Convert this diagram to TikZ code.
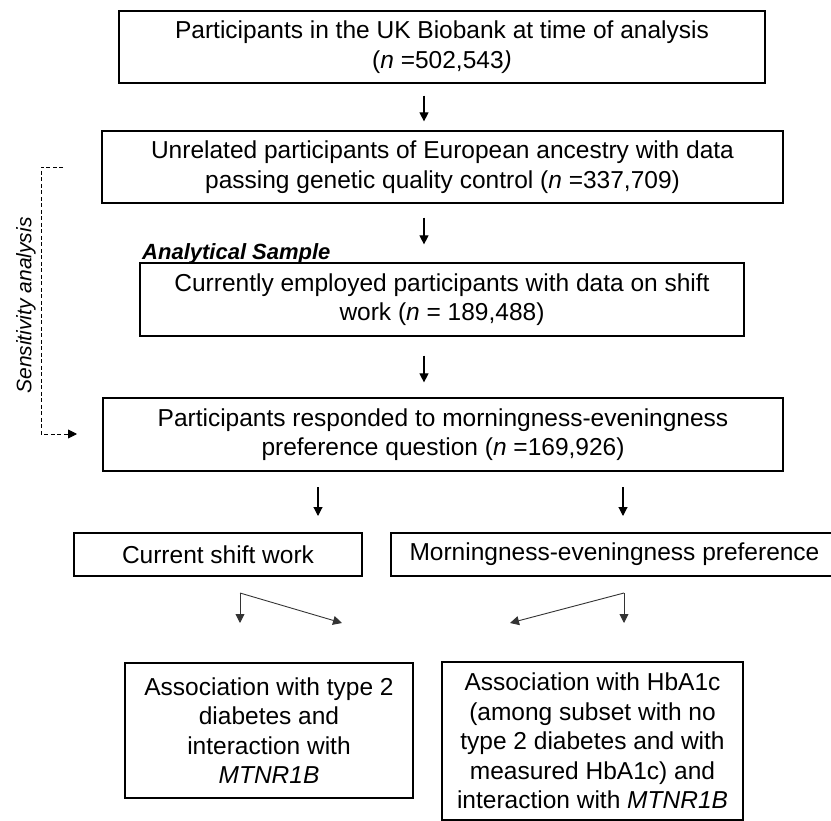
\documentclass[tikz,border=0pt]{standalone}
\usepackage{fontspec}
\setmainfont{Liberation Sans}
\usetikzlibrary{arrows.meta}
\begin{document}
\begin{tikzpicture}[x=1pt,y=-1pt,
  box/.style={draw=black, line width=1.2pt, inner sep=0pt, align=center,
    font=\fontsize{24.5}{29.5}\selectfont},
  arr/.style={line width=1.1pt, -{Triangle[length=9pt,width=9pt]}},
  thinarr/.style={line width=0.9pt, draw=black!80, -{Triangle[length=9pt,width=9pt]}},
  dasharr/.style={line width=0.9pt, dash pattern=on 4pt off 2.5pt, -{Triangle[length=9pt,width=9pt]}},
  lbl/.style={inner sep=0pt}]
\useasboundingbox (0,0) rectangle (831,821);
\clip (0,0) rectangle (831,821);

% boxes
\node[box, minimum width=646pt, minimum height=72pt] (b1) at (442,47)
  {Participants in the UK Biobank at time of analysis\\(\textit{n} =502,543\textit{)}};
\node[box, minimum width=681pt, minimum height=72pt] (b2) at (442.5,167)
  {Unrelated participants of European ancestry with data\\passing genetic quality control (\textit{n} =337,709)};
\node[box, minimum width=604pt, minimum height=73pt] (b3) at (442,299.5)
  {Currently employed participants with data on shift\\work (\textit{n} = 189,488)};
\node[box, minimum width=680pt, minimum height=73pt] (b4) at (443,434.5)
  {Participants responded to morningness-eveningness\\preference question (\textit{n} =169,926)};
\node[box, minimum width=288pt, minimum height=43pt] (b5) at (218,554.5)
  {Current shift work};
\node[box, minimum width=447pt, minimum height=43pt] (b6) at (614.5,554.5)
  {Morningness-eveningness preference};
\node[box, minimum width=288pt, minimum height=135pt] (b7) at (269,730.5)
  {Association with type 2\\diabetes and\\interaction with\\\textit{MTNR1B}};
\node[box, minimum width=301pt, minimum height=158pt] (b8) at (592.5,741)
  {Association with HbA1c\\(among subset with no\\type 2 diabetes and with\\measured HbA1c) and\\interaction with \textit{MTNR1B}};

% labels
\node[lbl, anchor=base west, font=\fontsize{22}{24}\selectfont\bfseries\itshape] (as) at (142,259.5)
  {Analytical Sample};
\node[lbl, rotate=90, font=\fontsize{21}{24}\selectfont\itshape] (sa) at (26,305.5)
  {Sensitivity analysis};

% main arrows (slightly left of the box centres, as drawn)
\draw[arr] ([xshift=-18pt,yshift=-12pt]b1.south) -- ([xshift=-18.5pt,yshift=9pt]b2.north);
\draw[arr] ([xshift=-18.5pt,yshift=-14pt]b2.south) -- ([xshift=-18pt,yshift=18pt]b3.north);
\draw[arr] ([xshift=-18pt,yshift=-19pt]b3.south) -- ([xshift=-19pt,yshift=15pt]b4.north);

\coordinate (s5) at (318,487);
\coordinate (e5) at (318,516);
\coordinate (s6) at (623,487);
\coordinate (e6) at (623,516);
\draw[arr] (s5) -- (e5);
\draw[arr] (s6) -- (e6);

% lower arrows
\coordinate (lt) at (240,593);
\coordinate (ld) at (240,623);
\coordinate (lr) at (342,623);
\coordinate (rt) at (624,593);
\coordinate (rd) at (624,623);
\coordinate (rl) at (510,623);
\draw[thinarr] (lt) -- (ld);
\draw[thinarr] (lt) -- (lr);
\draw[thinarr] (rt) -- (rd);
\draw[thinarr] (rt) -- (rl);

% sensitivity dashed path
\coordinate (d0) at (63,167);
\coordinate (d1) at (41,167);
\coordinate (d2) at (41,434);
\coordinate (d3) at (77,434);
\draw[dasharr] (d0) -- (d1) -- (d2) -- (d3);
\end{tikzpicture}
\end{document}
